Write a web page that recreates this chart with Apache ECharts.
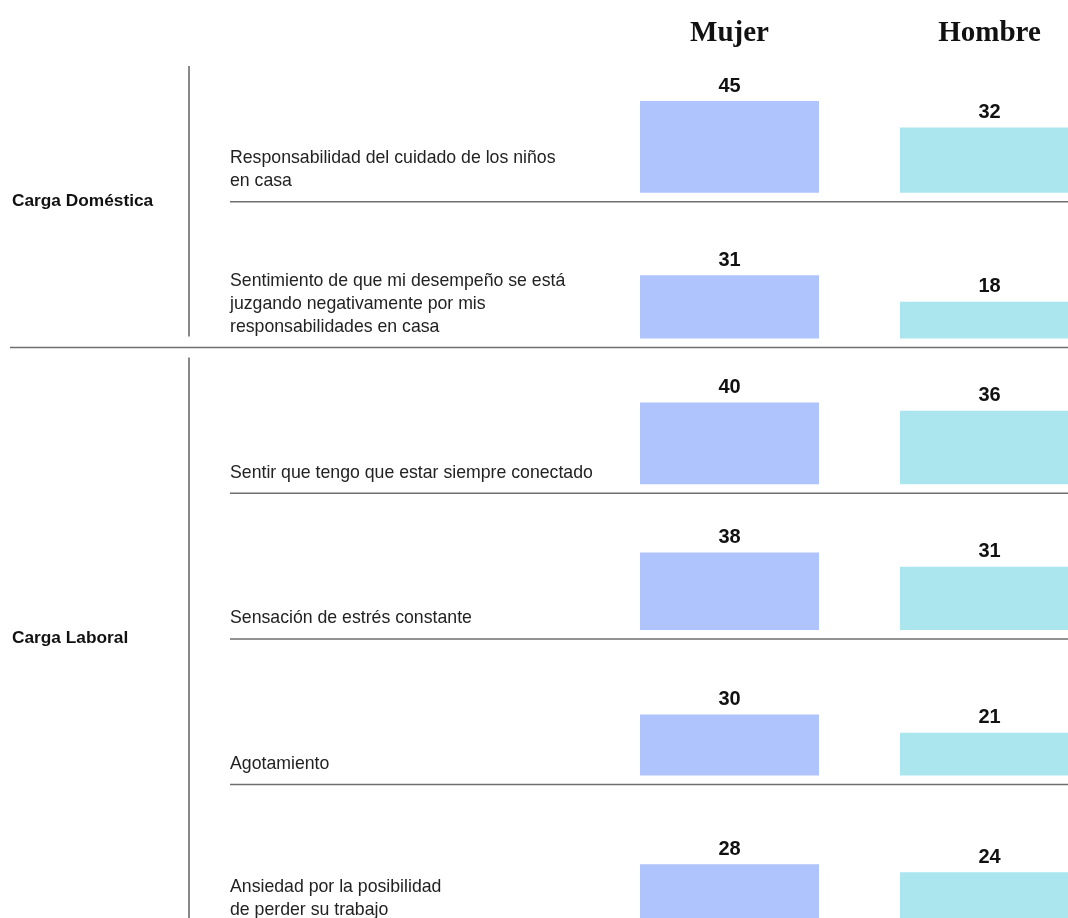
<!DOCTYPE html>
<html>
<head>
<meta charset="utf-8">
<script src="https://cdn.jsdelivr.net/npm/echarts@6/dist/echarts.min.js"></script>
<style>
  html, body { margin: 0; padding: 0; background: #ffffff; }
  #chart { width: 1068px; height: 918px; }
</style>
</head>
<body>
<div id="chart"></div>
<script>
// Column headers (one bar per gender in every row)
const genders = ['Mujer', 'Hombre'];

// Row labels, top to bottom
const items = [
  'Responsabilidad del cuidado de los niños\nen casa',
  'Sentimiento de que mi desempeño se está\njuzgando negativamente por mis\nresponsabilidades en casa',
  'Sentir que tengo que estar siempre conectado',
  'Sensación de estrés constante',
  'Agotamiento',
  'Ansiedad por la posibilidad\nde perder su trabajo'
];

// Row groups and which group each row belongs to
const groups = ['Carga Doméstica', 'Carga Laboral'];
const groupOfItem = [0, 0, 1, 1, 1, 1];

// Percentages
const mujer = [45, 31, 40, 38, 30, 28];
const hombre = [32, 18, 36, 31, 21, 24];

// ---- layout ----
const FIRST_BASE = 192.8;   // baseline of the first row of bars
const PITCH = 145.7;        // distance between row baselines
const Y_MAX = 50;
const GRID_H = 102;         // pixel height for Y_MAX
const GRID_LEFT = 599.5;
const GRID_W = 520;         // the right column runs past the page edge
const BAR_W = 179;
const TEXT_X = 230;
const GROUP_X = 12;
const VLINE_X = 189;
const RULE_GAP = 9;

const COLOR_MUJER = '#afc3fd';
const COLOR_HOMBRE = '#abe6ef';
const SANS = '"Liberation Sans", Arial, sans-serif';
const SERIF = '"Liberation Serif", "Times New Roman", serif';

const base = i => FIRST_BASE + PITCH * i;

const grids = [], xAxes = [], yAxes = [], series = [];
items.forEach((name, i) => {
  grids.push({
    left: GRID_LEFT, width: GRID_W, top: base(i) - GRID_H, height: GRID_H,
    outerBoundsMode: 'none'
  });
  xAxes.push({
    gridIndex: i, type: 'category', data: genders,
    position: 'top',
    show: i === 0,
    axisLine: { show: false }, axisTick: { show: false }, splitLine: { show: false },
    axisLabel: {
      show: i === 0, margin: 43, interval: 0,
      fontFamily: SERIF, fontWeight: 'bold', fontSize: 29, color: '#111111'
    }
  });
  yAxes.push({ gridIndex: i, type: 'value', min: 0, max: Y_MAX, show: false, splitLine: { show: false } });
  series.push({
    type: 'bar', name: name, xAxisIndex: i, yAxisIndex: i,
    barWidth: BAR_W, silent: true,
    data: [
      { value: mujer[i], itemStyle: { color: COLOR_MUJER } },
      { value: hombre[i], itemStyle: { color: COLOR_HOMBRE } }
    ],
    label: {
      show: true, position: 'top', distance: 5,
      fontFamily: SANS, fontWeight: 'bold', fontSize: 20, color: '#111111'
    }
  });
});

// ---- decorative rules and text ----
const graphics = [];
const ruleStyle = { stroke: '#6f6f6f', lineWidth: 1.5 };

items.forEach((name, i) => {
  // row label, last line sitting on the bar baseline
  graphics.push({
    type: 'text', silent: true,
    style: {
      text: name, x: TEXT_X, y: base(i),
      textAlign: 'left', align: 'left',
      textVerticalAlign: 'bottom', verticalAlign: 'bottom',
      fontFamily: SANS, fontSize: 17.7, lineHeight: 23, fill: '#222222'
    }
  });
  // rule under the row: full width when it closes a group
  const last = i === items.length - 1 || groupOfItem[i + 1] !== groupOfItem[i];
  const y = base(i) + RULE_GAP;
  graphics.push({
    type: 'line', silent: true,
    shape: { x1: last ? 10 : TEXT_X, y1: y, x2: 1068, y2: y },
    style: ruleStyle
  });
});

groups.forEach((g, gi) => {
  const rows = groupOfItem.map((v, i) => v === gi ? i : -1).filter(i => i >= 0);
  const first = rows[0], lastRow = rows[rows.length - 1];
  const top = base(first) - PITCH + RULE_GAP + 10;
  const bottom = base(lastRow) + RULE_GAP - 11;
  graphics.push({
    type: 'line', silent: true,
    shape: { x1: VLINE_X, y1: top, x2: VLINE_X, y2: bottom },
    style: { stroke: '#4a4a4a', lineWidth: 1.3 }
  });
  graphics.push({
    type: 'text', silent: true,
    style: {
      text: g, x: GROUP_X, y: (top + bottom) / 2,
      textAlign: 'left', align: 'left',
      textVerticalAlign: 'middle', verticalAlign: 'middle',
      fontFamily: SANS, fontWeight: 'bold', fontSize: 17.3, fill: '#111111'
    }
  });
});

const chart = echarts.init(document.getElementById('chart'), null, { renderer: 'canvas' });
chart.setOption({
  animation: false,
  backgroundColor: '#ffffff',
  grid: grids,
  xAxis: xAxes,
  yAxis: yAxes,
  series: series,
  graphic: { elements: graphics }
});
</script>
</body>
</html>
